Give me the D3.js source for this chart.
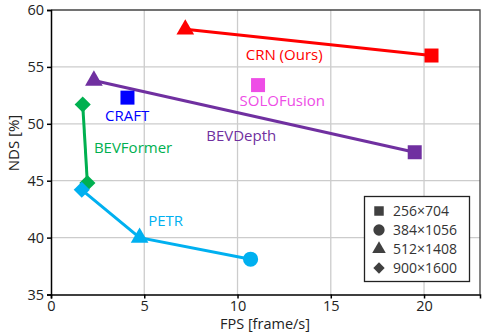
<!DOCTYPE html>
<html><head><meta charset="utf-8">
<script src="https://cdn.jsdelivr.net/npm/d3@7"></script>
<style>body{margin:0;background:#fff}svg{display:block;font-family:"Open Sans","Noto Sans",sans-serif}</style>
</head><body><svg id="c" width="482" height="333"></svg>
<script>
const xTicks = [0, 5, 10, 15, 20];
const yTicks = [35, 40, 45, 50, 55, 60];
const methods = ["CRN (Ours)", "BEVDepth", "SOLOFusion", "CRAFT", "BEVFormer", "PETR"];
const colors = ["#ff0000", "#7030a0", "#ee4de6", "#0000ff", "#00b050", "#00b0f0"];
// points per method: [fps, nds, shapeIndex]  shape: 0 square,1 circle,2 triangle,3 diamond
const crnPts = [[7.2, 58.3, 2], [20.4, 56.0, 0]];
const bevdepthPts = [[2.3, 53.8, 2], [19.5, 47.5, 0]];
const soloPts = [[11.1, 53.4, 0]];
const craftPts = [[4.1, 52.3, 0]];
const bevformerPts = [[1.7, 51.7, 3], [1.95, 44.8, 3]];
const petrPts = [[1.65, 44.2, 3], [4.75, 40.0, 2], [10.7, 38.1, 1]];
const allPts = [crnPts, bevdepthPts, soloPts, craftPts, bevformerPts, petrPts];
// label anchor (text baseline) in data coords
const labelPos = [[12.5, 55.6], [10.2, 48.5], [12.4, 51.55], [4.08, 50.25], [4.4, 47.45], [6.15, 41.0]];
const legendLabels = ["256×704", "384×1056", "512×1408", "900×1600"];

const svg = d3.select("#c");
const L = 51, R = 480, T = 10, B = 294.5;
const x = d3.scaleLinear().domain([0, 23]).range([L, R]);
const y = d3.scaleLinear().domain([35, 60]).range([B, T]);

// grid
svg.append("g").selectAll("line").data(xTicks.slice(1)).join("line")
  .attr("x1", d => x(d)).attr("x2", d => x(d)).attr("y1", T).attr("y2", B)
  .attr("stroke", "#cccccc").attr("stroke-width", 1.3);
svg.append("g").selectAll("line").data(yTicks.slice(1, -1)).join("line")
  .attr("x1", L).attr("x2", R).attr("y1", d => y(d)).attr("y2", d => y(d))
  .attr("stroke", "#cccccc").attr("stroke-width", 1.3);
// top/right frame
svg.append("path").attr("d", `M${L},${T}H${R}V${B}`).attr("fill", "none").attr("stroke", "#444").attr("stroke-width", 1.3);

// axes
const xa = svg.append("g").attr("transform", `translate(0,${B})`)
  .call(d3.axisBottom(x).tickValues(xTicks).tickSize(4).tickPadding(2));
const ya = svg.append("g").attr("transform", `translate(${L},0)`)
  .call(d3.axisLeft(y).tickValues(yTicks).tickSize(4).tickPadding(3));
[xa, ya].forEach(a => {
  a.selectAll("path,line").attr("stroke", "#000").attr("stroke-width", 1.5);
  a.selectAll("text").attr("font-size", 14.5).attr("fill", "#222").attr("font-family", '"Open Sans","Noto Sans",sans-serif');
});

svg.append("text").attr("x", 265).attr("y", 329).attr("text-anchor", "middle")
  .attr("font-size", 14.5).attr("fill", "#222").text("FPS [frame/s]");
svg.append("text").attr("transform", "translate(19,143) rotate(-90)").attr("text-anchor", "middle")
  .attr("font-size", 15).attr("fill", "#222").text("NDS [%]");

const shapeTypes = [d3.symbolSquare, d3.symbolCircle, d3.symbolTriangle, d3.symbolSquare];
const shapeSizes = [196, 180, 135, 130];
const shapeRot = [0, 0, 0, 45];

const line = d3.line().x(d => x(d[0])).y(d => y(d[1]));
allPts.forEach((pts, i) => {
  if (pts.length > 1) svg.append("path").attr("d", line(pts)).attr("fill", "none")
    .attr("stroke", colors[i]).attr("stroke-width", 3);
});
allPts.forEach((pts, i) => {
  svg.append("g").selectAll("path").data(pts).join("path")
    .attr("transform", d => `translate(${x(d[0])},${y(d[1])}) rotate(${shapeRot[d[2]]})`)
    .attr("d", d => d3.symbol().type(shapeTypes[d[2]]).size(shapeSizes[d[2]])())
    .attr("fill", colors[i]);
});
methods.forEach((m, i) => {
  svg.append("text").attr("x", x(labelPos[i][0])).attr("y", y(labelPos[i][1]))
    .attr("text-anchor", "middle").attr("font-size", 15).attr("fill", colors[i]).text(m);
});

// legend
const lg = svg.append("g");
lg.append("rect").attr("x", 364.5).attr("y", 196.5).attr("width", 105).attr("height", 85)
  .attr("fill", "#fff").attr("stroke", "#222").attr("stroke-width", 1.3);
legendLabels.forEach((t, i) => {
  const cy = 211 + i * 19;
  lg.append("path").attr("transform", `translate(379,${cy}) rotate(${shapeRot[i]})`)
    .attr("d", d3.symbol().type(shapeTypes[i]).size([90, 100, 80, 64][i])()).attr("fill", "#404040");
  lg.append("text").attr("x", 393).attr("y", cy + 5).attr("font-size", 14).attr("fill", "#333").text(t);
});
</script></body></html>
